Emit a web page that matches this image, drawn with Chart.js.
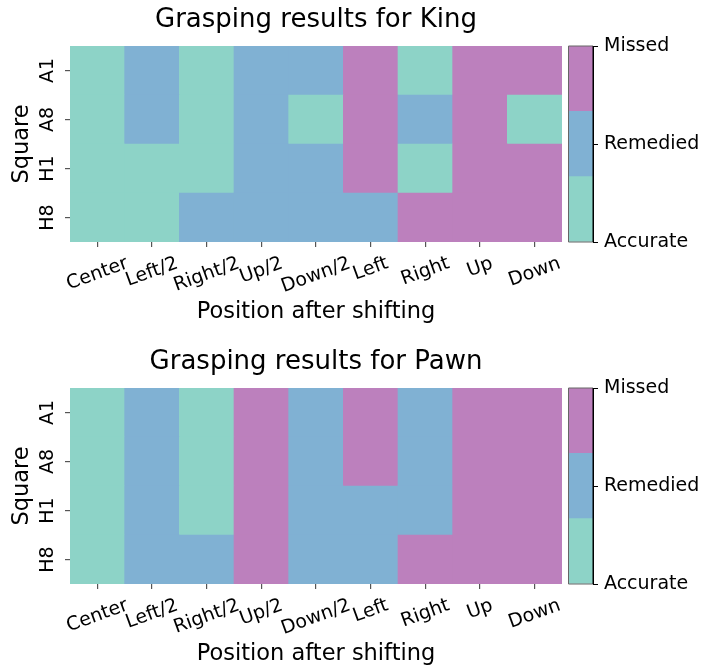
<!DOCTYPE html>
<html>
<head>
<meta charset="utf-8">
<script src="https://cdn.jsdelivr.net/npm/chart.js@4.4.1/dist/chart.umd.min.js"></script>
<style>
  html, body { margin: 0; padding: 0; background: #fff; }
  body { width: 703px; height: 666px; overflow: hidden; position: relative; }
  .panel { position: absolute; left: 0; width: 703px; height: 340px; }
  .panel canvas { position: absolute; top: 0; }
</style>
</head>
<body>
<div class="panel" style="top:0px">
  <canvas id="heatKing" width="562" height="340" style="left:0px"></canvas>
  <canvas id="barKing" width="136" height="340" style="left:567px"></canvas>
</div>
<div class="panel" style="top:342px">
  <canvas id="heatPawn" width="562" height="340" style="left:0px"></canvas>
  <canvas id="barPawn" width="136" height="340" style="left:567px"></canvas>
</div>
<script>
const positions = ["Center", "Left/2", "Right/2", "Up/2", "Down/2", "Left", "Right", "Up", "Down"];
const squares = ["A1", "A8", "H1", "H8"];
const outcomes = ["Accurate", "Remedied", "Missed"];
const outcomeColors = ["#8dd3c7", "#80b1d3", "#bc80bd"];

// 0 = Accurate, 1 = Remedied, 2 = Missed
const kingA1 = [0, 1, 0, 1, 1, 2, 0, 2, 2];
const kingA8 = [0, 1, 0, 1, 0, 2, 1, 2, 0];
const kingH1 = [0, 0, 0, 1, 1, 2, 0, 2, 2];
const kingH8 = [0, 0, 1, 1, 1, 1, 2, 2, 2];

const pawnA1 = [0, 1, 0, 2, 1, 2, 1, 2, 2];
const pawnA8 = [0, 1, 0, 2, 1, 2, 1, 2, 2];
const pawnH1 = [0, 1, 0, 2, 1, 1, 1, 2, 2];
const pawnH8 = [0, 1, 1, 2, 1, 1, 2, 2, 2];

Chart.defaults.font.family = "'DejaVu Sans', sans-serif";
Chart.defaults.color = "#000";

// tick labels drawn like matplotlib: y rotated 90, x rotated 20 and centred on the tick
const tickLabels = {
  id: "tickLabels",
  afterDraw(chart) {
    const { ctx, chartArea, scales } = chart;
    ctx.save();
    ctx.fillStyle = "#000";
    ctx.font = "19px 'DejaVu Sans'";
    ctx.textAlign = "center";
    ctx.textBaseline = "middle";
    squares.forEach((sq, i) => {
      const y = scales.y.getPixelForValue(squares.length - 1 - i + 0.5);
      ctx.save();
      ctx.translate(scales.y.right - 22, y);
      ctx.rotate(-Math.PI / 2);
      ctx.fillText(sq, 0, 0);
      ctx.restore();
    });
    const ang = 20 * Math.PI / 180;
    positions.forEach((p, i) => {
      const x = scales.x.getPixelForValue(i);
      const w = ctx.measureText(p).width;
      const y = chartArea.bottom + 12 + (w * Math.sin(ang) + 19 * Math.cos(ang)) / 2;
      ctx.save();
      ctx.translate(x, y);
      ctx.rotate(-ang);
      ctx.fillText(p, 0, 0);
      ctx.restore();
    });
    ctx.restore();
  }
};

// colorbar frame: grey on three sides, black axis line on the right
const outline = {
  id: "outline",
  afterDatasetsDraw(chart) {
    const { ctx, chartArea } = chart;
    const l = chartArea.left + 0.5, r = chartArea.right, t = chartArea.top, b = chartArea.bottom;
    ctx.save();
    ctx.strokeStyle = "#666";
    ctx.lineWidth = 1;
    ctx.beginPath();
    ctx.moveTo(r, t); ctx.lineTo(l, t); ctx.lineTo(l, b); ctx.lineTo(r, b);
    ctx.stroke();
    ctx.strokeStyle = "#000";
    ctx.beginPath();
    ctx.moveTo(r, t); ctx.lineTo(r, b);
    ctx.stroke();
    ctx.restore();
  }
};

function drawHeatmap(canvasId, titleText, rows) {
  const datasets = [];
  // bottom row first so A1 ends up on top
  for (let i = squares.length - 1; i >= 0; i--) {
    datasets.push({
      label: squares[i],
      data: positions.map(() => 1),
      backgroundColor: rows[i].map(v => outcomeColors[v]),
      borderWidth: 0,
      categoryPercentage: 1,
      barPercentage: 1,
    });
  }
  new Chart(document.getElementById(canvasId), {
    type: "bar",
    data: { labels: positions, datasets: datasets },
    options: {
      responsive: false,
      animation: false,
      layout: { padding: 0 },
      plugins: {
        legend: { display: false },
        tooltip: { enabled: false },
        title: {
          display: true,
          text: titleText,
          fullSize: false,
          color: "#000",
          font: { size: 26, weight: "normal" },
          padding: { top: 5, bottom: 9.8 },
        },
      },
      scales: {
        x: {
          stacked: true,
          grid: { offset: false, drawOnChartArea: false, tickLength: 5, color: "#555", lineWidth: 1.2 },
          border: { display: false },
          ticks: { display: false },
          title: {
            display: true,
            text: "Position after shifting",
            color: "#000",
            font: { size: 22.5 },
            padding: { top: 0, bottom: 14.5 },
          },
          afterFit: (s) => { s.height = 98; },
        },
        y: {
          stacked: true,
          min: 0,
          max: squares.length,
          grid: { drawOnChartArea: false, tickLength: 5, color: "#555", lineWidth: 1.2 },
          border: { display: false },
          ticks: { display: false },
          title: {
            display: true,
            text: "Square",
            color: "#000",
            font: { size: 22.5 },
            padding: { top: 9, bottom: 0 },
          },
          afterBuildTicks: (s) => { s.ticks = squares.map((_, i) => ({ value: i + 0.5 })); },
          afterFit: (s) => { s.width = 70; },
        },
      },
    },
    plugins: [tickLabels],
  });
}

function drawColorbar(canvasId) {
  const span = (outcomes.length - 1) / outcomes.length;
  new Chart(document.getElementById(canvasId), {
    type: "bar",
    data: {
      labels: [""],
      datasets: outcomes.map((o, i) => ({
        label: o,
        data: [span],
        backgroundColor: outcomeColors[i],
        borderWidth: 0,
        categoryPercentage: 1,
        barPercentage: 1,
      })),
    },
    options: {
      responsive: false,
      animation: false,
      layout: { padding: { top: 46, bottom: 98, left: 1 } },
      plugins: { legend: { display: false }, tooltip: { enabled: false } },
      scales: {
        x: { display: false, stacked: true },
        y: {
          position: "right",
          stacked: true,
          min: 0,
          max: outcomes.length - 1,
          ticks: {
            stepSize: 1,
            color: "#000",
            font: { size: 19 },
            padding: 6,
            callback: (v) => outcomes[v],
          },
          grid: { drawOnChartArea: false, tickLength: 5, color: "#000" },
          border: { display: true, color: "#000" },
          afterFit: (s) => { s.width = 110; },
        },
      },
    },
    plugins: [outline],
  });
}

drawHeatmap("heatKing", "Grasping results for King", [kingA1, kingA8, kingH1, kingH8]);
drawColorbar("barKing");
drawHeatmap("heatPawn", "Grasping results for Pawn", [pawnA1, pawnA8, pawnH1, pawnH8]);
drawColorbar("barPawn");
</script>
</body>
</html>
